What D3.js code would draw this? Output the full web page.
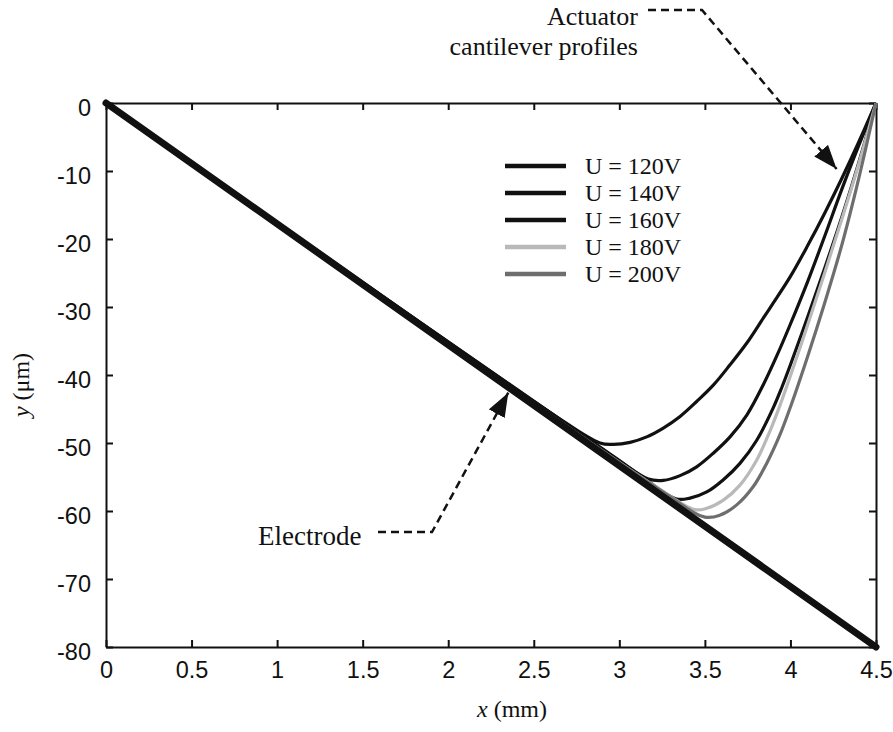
<!DOCTYPE html>
<html>
<head>
<meta charset="utf-8">
<script src="https://cdn.jsdelivr.net/npm/d3@7/dist/d3.min.js"></script>
<style>
  html, body { margin: 0; padding: 0; background: #fff; }
  svg { display: block; }
</style>
</head>
<body>
<svg id="chart" width="893" height="732"></svg>
<script>
// ---------- data ----------
const xTicks = [0, 0.5, 1, 1.5, 2, 2.5, 3, 3.5, 4, 4.5];
const yTicks = [0, -10, -20, -30, -40, -50, -60, -70, -80];
const xTickLabels = ["0", "0.5", "1", "1.5", "2", "2.5", "3", "3.5", "4", "4.5"];
const yTickLabels = ["0", "-10", "-20", "-30", "-40", "-50", "-60", "-70", "-80"];

const electrode = [[0, 0], [4.5, -80]];

const seriesNames = ["U = 120V", "U = 140V", "U = 160V", "U = 180V", "U = 200V"];
const seriesColors = ["#111111", "#111111", "#111111", "#b9b9b9", "#6e6e6e"];

const u120 = [[0,0],[2.6,-45.6],[2.887,-50.0],[2.965,-50.2],[3.063,-49.9],[3.160,-49.1],[3.257,-47.8],[3.355,-46.1],[3.452,-43.9],[3.549,-41.5],[3.647,-38.5],[3.745,-35.3],[3.842,-31.6],[3.9,-29.4],[4.0,-25.5],[4.1,-21.0],[4.2,-16.2],[4.3,-11.1],[4.4,-5.7],[4.5,0]];
const u140 = [[0,0],[2.95,-51.7],[3.17,-55.3],[3.257,-55.5],[3.355,-54.8],[3.452,-53.5],[3.549,-51.5],[3.647,-49.1],[3.745,-45.9],[3.842,-41.4],[3.92,-37.2],[4.0,-32.5],[4.1,-26.3],[4.2,-19.6],[4.3,-12.7],[4.4,-6.2],[4.5,0]];
const u160 = [[0,0],[3.1,-54.4],[3.33,-58.2],[3.413,-58.1],[3.511,-57.2],[3.608,-55.4],[3.705,-53.0],[3.803,-49.6],[3.9,-44.8],[3.95,-41.8],[4.0,-38.5],[4.1,-31.5],[4.2,-24.3],[4.3,-16.8],[4.4,-8.7],[4.5,0]];
const u180 = [[0,0],[3.2,-56.2],[3.44,-59.8],[3.511,-59.6],[3.608,-58.4],[3.705,-56.2],[3.803,-52.5],[3.881,-48.2],[3.94,-44.4],[4.0,-40.1],[4.1,-32.7],[4.2,-25.0],[4.3,-17.1],[4.4,-8.9],[4.5,0]];
const u200 = [[0,0],[3.25,-57.1],[3.50,-60.9],[3.589,-60.6],[3.686,-59.1],[3.783,-56.4],[3.861,-53.0],[3.94,-48.7],[4.0,-44.7],[4.1,-37.3],[4.2,-29.4],[4.3,-20.9],[4.4,-11.0],[4.5,0]];
const seriesData = [u120, u140, u160, u180, u200];

// annotation arrow tips (data coords)
const electrodeArrowTip = [2.351, -42.6];
const actuatorArrowTip = [4.27, -9.7];

// ---------- layout ----------
const svg = d3.select("#chart");
const L = 106, R = 876, T = 103, B = 647;
const x = d3.scaleLinear().domain([0, 4.5]).range([L, R]);
const y = d3.scaleLinear().domain([-80, 0]).range([B, T]);

const tickFont = "'Liberation Sans', Arial, sans-serif";
const serif = "'Liberation Serif', 'Times New Roman', serif";

// axes with inward ticks
const tl = 7;
const gB = svg.append("g").attr("transform", `translate(0,${B})`)
  .call(d3.axisBottom(x).tickValues(xTicks).tickSizeInner(-tl).tickSizeOuter(0)
    .tickFormat((d, i) => xTickLabels[i]).tickPadding(16));
const gT = svg.append("g").attr("transform", `translate(0,${T})`)
  .call(d3.axisTop(x).tickValues(xTicks).tickSizeInner(-tl).tickSizeOuter(0).tickFormat(""));
const gL = svg.append("g").attr("transform", `translate(${L},0)`)
  .call(d3.axisLeft(y).tickValues(yTicks).tickSizeInner(-tl).tickSizeOuter(0)
    .tickFormat((d, i) => yTickLabels[i]).tickPadding(15));
const gR = svg.append("g").attr("transform", `translate(${R},0)`)
  .call(d3.axisRight(y).tickValues(yTicks).tickSizeInner(-tl).tickSizeOuter(0).tickFormat(""));

[gB, gT, gL, gR].forEach(g => {
  g.select(".domain").attr("stroke", "#111").attr("stroke-width", 2);
  g.selectAll(".tick line").attr("stroke", "#111").attr("stroke-width", 2);
  g.selectAll(".tick text").attr("font-family", tickFont).attr("font-size", 23.5).attr("fill", "#111");
});
gL.selectAll(".tick text").attr("dy", "0.55em");
gB.selectAll(".tick text").attr("dy", "0.62em");

// ---------- curves ----------
const line = d3.line().x(d => x(d[0])).y(d => y(d[1])).curve(d3.curveCatmullRom.alpha(0.5));
seriesData.forEach((s, i) => {
  svg.append("path").datum(s)
    .attr("d", line)
    .attr("fill", "none")
    .attr("stroke", seriesColors[i])
    .attr("stroke-width", 3.2)
    .attr("stroke-linejoin", "round");
});

// electrode
svg.append("path").datum(electrode)
  .attr("d", d3.line().x(d => x(d[0])).y(d => y(d[1])))
  .attr("fill", "none").attr("stroke", "#111").attr("stroke-width", 7)
  .attr("stroke-linecap", "round");

// ---------- legend ----------
const legY0 = 166, legDy = 27;
const leg = svg.append("g");
seriesNames.forEach((name, i) => {
  const yy = legY0 + i * legDy;
  leg.append("line").attr("x1", 505).attr("x2", 566).attr("y1", yy).attr("y2", yy)
    .attr("stroke", seriesColors[i]).attr("stroke-width", 4.5);
  leg.append("text").attr("x", 585).attr("y", yy).attr("dy", "0.35em")
    .attr("font-family", serif).attr("font-size", 24).attr("fill", "#111").text(name);
});

// ---------- axis titles ----------
const xt = svg.append("text").attr("x", 512).attr("y", 717).attr("text-anchor", "middle")
  .attr("font-family", serif).attr("font-size", 24).attr("fill", "#111");
xt.append("tspan").attr("font-style", "italic").text("x");
xt.append("tspan").text(" (mm)");

const yt = svg.append("text").attr("transform", "translate(29,385) rotate(-90)").attr("text-anchor", "middle")
  .attr("font-family", serif).attr("font-size", 24).attr("fill", "#111");
yt.append("tspan").attr("font-style", "italic").text("y");
yt.append("tspan").text(" (μm)");

// ---------- annotations ----------
const defs = svg.append("defs");
defs.append("marker").attr("id", "ah").attr("markerUnits", "userSpaceOnUse")
  .attr("viewBox", "0 0 24 18").attr("refX", 24).attr("refY", 9)
  .attr("markerWidth", 24).attr("markerHeight", 18).attr("orient", "auto")
  .append("path").attr("d", "M0,0 L24,9 L0,18 Z").attr("fill", "#111");

svg.append("text").attr("x", 638).attr("y", 25).attr("text-anchor", "end")
  .attr("font-family", serif).attr("font-size", 26).attr("fill", "#111").text("Actuator");
svg.append("text").attr("x", 638).attr("y", 55).attr("text-anchor", "end")
  .attr("font-family", serif).attr("font-size", 26).attr("fill", "#111").text("cantilever profiles");
svg.append("path")
  .attr("d", `M648,10 L702,10 L${x(actuatorArrowTip[0])},${y(actuatorArrowTip[1])}`)
  .attr("fill", "none").attr("stroke", "#111").attr("stroke-width", 2.5)
  .attr("stroke-dasharray", "8,5").attr("marker-end", "url(#ah)");

svg.append("text").attr("x", 258).attr("y", 545)
  .attr("font-family", serif).attr("font-size", 27).attr("fill", "#111").text("Electrode");
svg.append("path")
  .attr("d", `M378,532 L432,532 L${x(electrodeArrowTip[0])},${y(electrodeArrowTip[1])}`)
  .attr("fill", "none").attr("stroke", "#111").attr("stroke-width", 2.5)
  .attr("stroke-dasharray", "8,5").attr("marker-end", "url(#ah)");
</script>
</body>
</html>
